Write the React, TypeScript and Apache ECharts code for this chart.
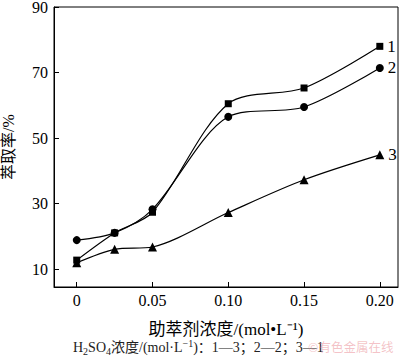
import React, { useEffect, useRef } from "react";
import * as echarts from "echarts";

const concentrations = [0, 0.025, 0.05, 0.1, 0.15, 0.2];
const series1 = [12.8, 21.1, 27.4, 60.5, 65.3, 78.0];
const series2 = [18.9, 21.1, 28.3, 56.5, 59.5, 71.4];
const series3 = [12.0, 16.1, 16.8, 27.3, 37.3, 44.9];
const seriesNames = ["1", "2", "3"];
const seriesSymbols = ["rect", "circle", "triangle"];
const xTicks = [0, 0.05, 0.1, 0.15, 0.2];
const yTicks = [10, 30, 50, 70, 90];
const xAxisName = "助萃剂浓度/(mol•L⁻¹)";
const yAxisName = "萃取率/%";
const footnoteRich = "{n|H}{s|2}{n|SO}{s|4}{n|浓度/(mol·L}{p|−1}{n|)：1—3；2—2；3—1}";
const watermark = "©有色金属在线";

const SERIF = "'Liberation Serif', 'Times New Roman', 'Noto Sans CJK SC', serif";

export default function App() {
  const ref = useRef<HTMLDivElement>(null);
  useEffect(() => {
    if (!ref.current) return;
    const chart = echarts.init(ref.current, undefined, { renderer: "svg" });
    const allData = [series1, series2, series3];
    const sizes = [7, 8, 9];
    chart.setOption({
      animation: false,
      backgroundColor: "#fff",
      grid: {
        left: 54,
        top: 7,
        right: 2,
        bottom: 73,
        show: true,
        borderColor: "#000",
        borderWidth: 1,
        outerBoundsMode: "none",
      },
      xAxis: {
        type: "value",
        min: -0.015,
        max: 0.212,
        name: xAxisName,
        nameLocation: "middle",
        nameGap: 34,
        nameTextStyle: { fontFamily: SERIF, fontSize: 17, color: "#000" },
        axisLine: { show: true, onZero: false, lineStyle: { color: "#000", width: 1 } },
        axisTick: { show: true, inside: true, length: 5, customValues: xTicks, lineStyle: { color: "#000" } },
        axisLabel: {
          customValues: xTicks,
          fontFamily: SERIF,
          fontSize: 16,
          color: "#000",
          margin: 5,
          formatter: (v: number) => (v === 0 ? "0" : v.toFixed(2)),
        },
        splitLine: { show: false },
      },
      yAxis: {
        type: "value",
        min: 4.6,
        max: 90,
        name: yAxisName,
        nameLocation: "middle",
        nameGap: 38,
        nameRotate: 90,
        nameTextStyle: { fontFamily: SERIF, fontSize: 16, color: "#000" },
        axisLine: { show: true, onZero: false, lineStyle: { color: "#000", width: 1 } },
        axisTick: { show: true, inside: true, length: 5, customValues: yTicks, lineStyle: { color: "#000" } },
        axisLabel: {
          customValues: yTicks,
          fontFamily: SERIF,
          fontSize: 16,
          color: "#000",
          margin: 6,
        },
        splitLine: { show: false },
      },
      series: allData.map((d, i) => ({
        type: "line",
        name: seriesNames[i],
        data: concentrations.map((x, j) => [x, d[j]]),
        smooth: 0.3,
        symbol: seriesSymbols[i],
        symbolSize: sizes[i],
        showAllSymbol: true,
        lineStyle: { color: "#000", width: 1.2 },
        itemStyle: { color: "#000" },
        label: {
          show: true,
          position: "right",
          distance: 4,
          fontFamily: SERIF,
          fontSize: 17,
          color: "#000",
          formatter: (p: any) => (p.dataIndex === concentrations.length - 1 ? seriesNames[i] : ""),
        },
      })),
      graphic: [
        {
          type: "text",
          left: 73,
          top: 338,
          style: {
            text: footnoteRich,
            rich: {
              n: { fontFamily: SERIF, fontSize: 14, fill: "#222", lineHeight: 18, verticalAlign: "middle" },
              s: { fontFamily: SERIF, fontSize: 10, fill: "#222", lineHeight: 18, verticalAlign: "bottom" },
              p: { fontFamily: SERIF, fontSize: 10, fill: "#222", lineHeight: 18, verticalAlign: "top" },
            },
          },
        },
        {
          type: "text",
          left: 308,
          top: 340,
          style: { text: watermark, font: "12.5px 'Noto Sans CJK SC', sans-serif", fill: "rgba(230,120,130,0.45)" },
        },
      ],
    });
    return () => chart.dispose();
  }, []);
  return <div ref={ref} style={{ position: "fixed", left: 0, top: 0, width: 400, height: 360 }} />;
}
